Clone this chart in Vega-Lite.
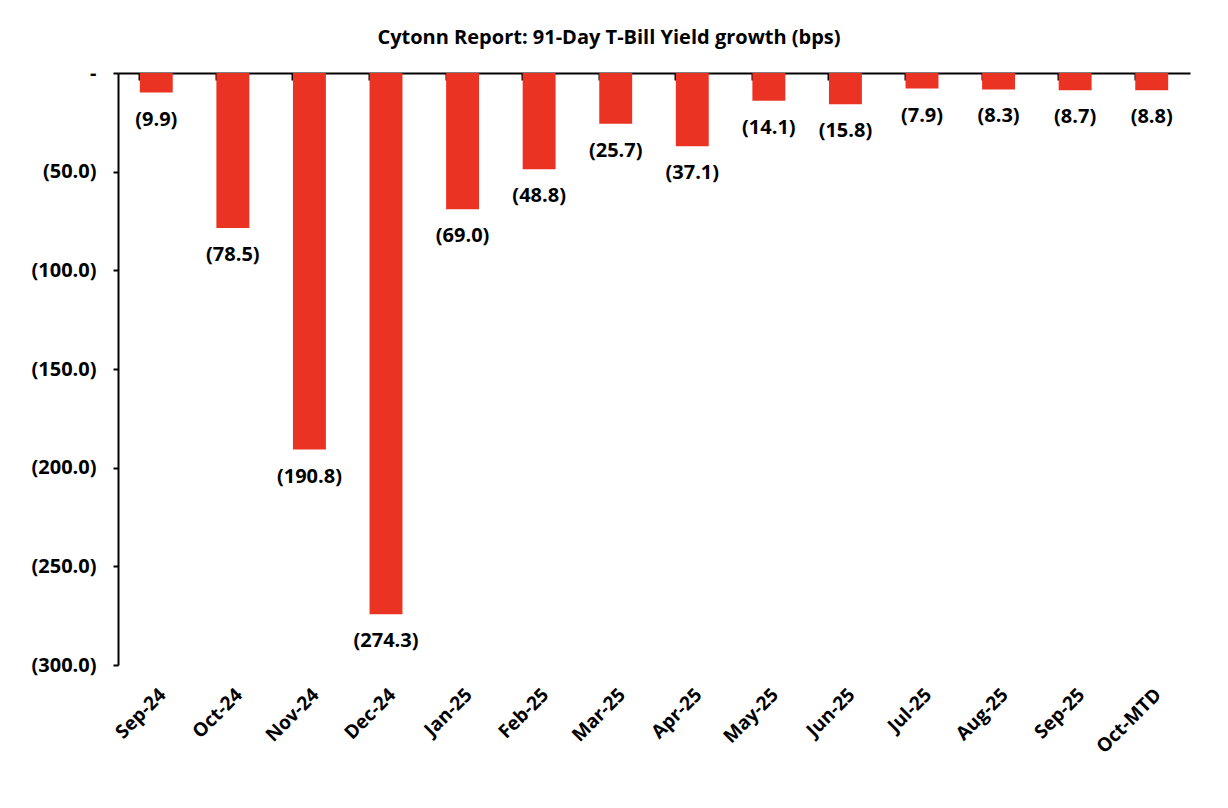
{
  "$schema": "https://vega.github.io/schema/vega-lite/v6.json",
  "autosize": "none",
  "width": 1072,
  "height": 592,
  "padding": {"left": 118, "top": 73, "right": 38, "bottom": 143},
  "background": "white",
  "config": {
    "view": {"stroke": null},
    "font": "Open Sans",
    "axis": {"grid": false, "domainColor": "black", "tickColor": "black", "domainWidth": 2, "tickWidth": 2}
  },
  "title": {
    "text": "Cytonn Report:  91-Day T-Bill Yield growth (bps)",
    "fontSize": 20,
    "fontWeight": "bold",
    "font": "Open Sans",
    "color": "black",
    "anchor": "middle",
    "dx": -45,
    "offset": 15
  },
  "data": {
    "values": [
      {"month": "Sep-24", "v": -9.9},
      {"month": "Oct-24", "v": -78.5},
      {"month": "Nov-24", "v": -190.8},
      {"month": "Dec-24", "v": -274.3},
      {"month": "Jan-25", "v": -69.0},
      {"month": "Feb-25", "v": -48.8},
      {"month": "Mar-25", "v": -25.7},
      {"month": "Apr-25", "v": -37.1},
      {"month": "May-25", "v": -14.1},
      {"month": "Jun-25", "v": -15.8},
      {"month": "Jul-25", "v": -7.9},
      {"month": "Aug-25", "v": -8.3},
      {"month": "Sep-25", "v": -8.7},
      {"month": "Oct-MTD", "v": -8.8}
    ]
  },
  "layer": [
    {
      "mark": {"type": "bar", "color": "#EB3324"},
      "encoding": {
        "x": {
          "field": "month", "type": "nominal", "sort": null,
          "scale": {"paddingInner": 0.57, "paddingOuter": 0.285},
          "axis": {"orient": "bottom", "title": null, "domain": false, "ticks": false, "labelAngle": -45, "labelFontSize": 19, "labelFontWeight": "bold", "labelColor": "black", "labelPadding": 20, "labelFont": "Open Sans"}
        },
        "y": {
          "field": "v", "type": "quantitative",
          "scale": {"domain": [-300, 0], "nice": false},
          "axis": {"title": null, "values": [-300, -250, -200, -150, -100, -50, 0], "tickSize": 5, "labelPadding": 17, "labelFontSize": 20, "labelFontWeight": "bold", "labelColor": "black", "labelFont": "Open Sans",
            "labelExpr": "datum.value == 0 ? '-' : '(' + format(-datum.value, '.1f') + ')'"}
        }
      }
    },
    {
      "mark": {"type": "text", "baseline": "top", "dy": 17, "fontSize": 20, "fontWeight": "bold", "font": "Open Sans", "color": "black"},
      "encoding": {
        "x": {
          "field": "month", "type": "nominal", "sort": null,
          "axis": {"orient": "top", "title": null, "labels": false, "domain": true, "ticks": true, "bandPosition": 0, "tickSize": -7}
        },
        "y": {"field": "v", "type": "quantitative"},
        "text": {"field": "v", "type": "quantitative", "format": "(.1f"}
      }
    }
  ],
  "resolve": {"axis": {"x": "independent"}}
}
